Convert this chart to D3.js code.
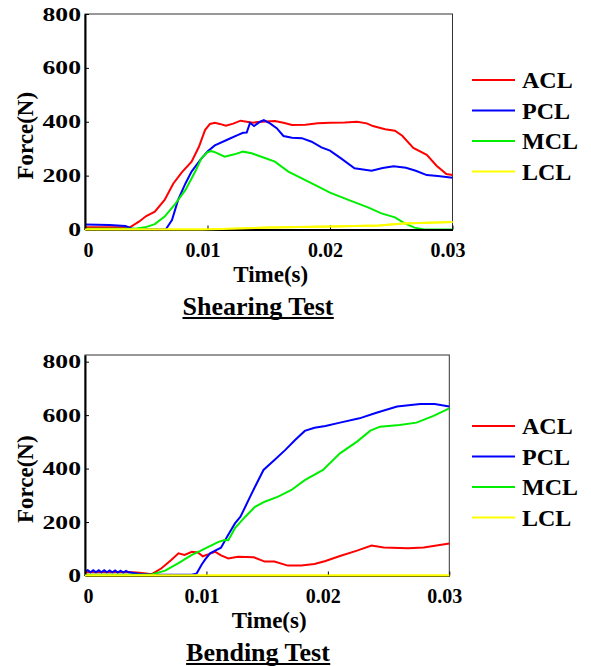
<!DOCTYPE html>
<html>
<head>
<meta charset="utf-8">
<script src="https://cdn.jsdelivr.net/npm/d3@7"></script>
<style>
body { margin: 0; background: #fff; }
text { font-family: "Liberation Serif", "Times New Roman", serif; font-weight: bold; fill: #000; }
</style>
</head>
<body>
<div id="chart"></div>
<script>
// ligaments + colours
const ligaments = ['ACL', 'PCL', 'MCL', 'LCL']
const colors = ['#ff0000', '#0000ff', '#00ee00', '#ffff00']

const xTicks = [0, 0.01, 0.02, 0.03]
const xTickLabels = ['0', '0.01', '0.02', '0.03']
const yTicks = [0, 200, 400, 600, 800]

// shearing test, [time s, force N]
const shearACL = [[0,8],[0.0037,9],[0.0044,29],[0.005,50],[0.0057,66],[0.0065,110],[0.0072,170],[0.0079,212],[0.0087,252],
  [0.0093,307],[0.0098,369],[0.0102,392],[0.0106,396],[0.011,392],[0.0115,385],[0.0121,393],[0.0127,404],[0.0132,400],
  [0.0137,396],[0.0141,399],[0.0148,401],[0.0155,403],[0.0162,396],[0.0169,388],[0.018,389],[0.019,394],[0.02,396],
  [0.0212,397],[0.0222,400],[0.023,394],[0.0235,384],[0.0245,372],[0.0253,367],[0.0259,348],[0.0268,303],[0.0279,277],
  [0.0287,237],[0.0295,206],[0.03,202]]
const shearPCL = [[0,19],[0.002,17],[0.0033,13],[0.0038,4],[0.0042,1],[0.0066,1],[0.0071,35],[0.0076,110],[0.0082,171],
  [0.0087,215],[0.0094,258],[0.01,290],[0.0106,312],[0.0117,335],[0.0125,351],[0.0129,359],[0.0132,360],[0.01347,396],
  [0.0138,384],[0.0143,400],[0.0146,406],[0.0151,394],[0.01565,376],[0.0162,347],[0.0169,341],[0.0177,339],[0.0185,326],
  [0.0193,305],[0.02,293],[0.0209,264],[0.022,227],[0.0234,218],[0.0243,228],[0.0252,235],[0.0262,229],[0.027,218],
  [0.0279,202],[0.0288,199],[0.03,192]]
const shearMCL = [[0,3],[0.0041,3],[0.0049,8],[0.0057,20],[0.0065,48],[0.0073,91],[0.0082,147],[0.009,215],[0.0095,264],
  [0.01,287],[0.0103,291],[0.0106,287],[0.0114,270],[0.0122,279],[0.0129,289],[0.0136,283],[0.0144,270],[0.0155,252],
  [0.0166,215],[0.0177,190],[0.0188,165],[0.02,137],[0.0215,110],[0.0231,82],[0.0242,60],[0.0253,45],[0.0261,23],
  [0.0269,7],[0.0277,0],[0.03,0]]
const shearLCL = [[0,0],[0.0095,0],[0.012,3],[0.015,7],[0.02,11],[0.024,15],[0.026,22],[0.03,28]]

// bending test
const bendACL = [[0,12],[0.0036,13],[0.0045,10],[0.0055,5],[0.0063,27],[0.0071,58],[0.0077,83],[0.0082,77],[0.0088,89],
  [0.0093,86],[0.0097,72],[0.0102,80],[0.0107,89],[0.0112,75],[0.0118,64],[0.0126,70],[0.0139,68],[0.0148,52],[0.0156,52],
  [0.0167,37],[0.0178,37],[0.0189,43],[0.0198,54],[0.021,73],[0.0224,93],[0.0236,112],[0.0246,105],[0.0266,102],
  [0.0279,105],[0.03,120]]
const bendPCL = [[0,15],[0.00023,20],[0.00045,12],[0.00068,20],[0.0009,12],[0.00113,20],[0.00135,12],[0.00158,20],[0.0018,12],
  [0.00203,19],[0.00225,12],[0.00248,19],[0.0027,11],[0.00293,18],[0.00315,11],[0.00338,17],[0.0036,12],[0.0045,6],
  [0.0055,3],[0.0088,3],[0.0092,8],[0.0096,40],[0.0099,60],[0.0103,83],[0.0108,95],[0.0112,104],[0.0117,145],
  [0.01235,195],[0.0128,220],[0.0132,257],[0.0136,295],[0.014,332],[0.0147,395],[0.0156,432],[0.0165,470],[0.0173,507],
  [0.0181,541],[0.0189,553],[0.0198,559],[0.021,572],[0.0226,588],[0.024,609],[0.0257,632],[0.0276,642],[0.0288,642],
  [0.03,632]]
const bendMCL = [[0,3],[0.0055,4],[0.0066,18],[0.0077,46],[0.0088,77],[0.0095,92],[0.0102,108],[0.011,126],[0.0115,133],
  [0.0118,132],[0.01235,177],[0.0132,220],[0.014,257],[0.0148,276],[0.0159,295],[0.017,320],[0.0181,357],[0.0196,395],
  [0.021,457],[0.0224,501],[0.0235,542],[0.0243,557],[0.0259,563],[0.0273,572],[0.0287,597],[0.03,625]]
const bendLCL = [[0,0],[0.03,0]]

const charts = [
  { title: 'Shearing Test', data: [shearACL, shearPCL, shearMCL, shearLCL],
    left: 85, right: 452.5, top: 14, bottom: 229.5, yMax: 800, legendY: 80 },
  { title: 'Bending Test', data: [bendACL, bendPCL, bendMCL, bendLCL],
    left: 85, right: 449.3, top: 355, bottom: 575.5, yMax: 825, legendY: 426 }
]

let svg = d3.select('#chart')
.append('svg')
.attr('width', 591)
.attr('height', 666)

charts.forEach(c => drawChart(c))

function drawChart(c) {
  let xScale = d3.scaleLinear()
  .domain([0, 0.03])
  .range([c.left, c.right])

  let yScale = d3.scaleLinear()
  .domain([0, c.yMax])
  .range([c.bottom, c.top])

  // frame (top / right)
  svg.append('rect')
  .attr('x', c.left).attr('y', c.top)
  .attr('width', c.right - c.left).attr('height', c.bottom - c.top)
  .attr('fill', 'none')
  .attr('stroke', '#333')
  .attr('stroke-width', 1)

  let lineFunc = d3.line()
  .x(d => xScale(d[0]))
  .y(d => yScale(d[1]))

  svg.append('g')
  .selectAll('path')
  .data(c.data)
  .join('path')
  .attr('d', lineFunc)
  .attr('fill', 'none')
  .attr('stroke', (d, i) => colors[i])
  .attr('stroke-width', 2)

  let xAxis = svg.append('g')
  .attr('transform', `translate(0, ${c.bottom})`)
  .call(d3.axisBottom(xScale).tickValues(xTicks).tickFormat((d, i) => xTickLabels[i])
    .tickSizeInner(-4).tickSizeOuter(0).tickPadding(13))
  xAxis.select('.domain').attr('stroke', '#000').attr('stroke-width', 2)
  xAxis.selectAll('text').attr('font-size', 20).attr('dx', d => d == 0 ? 3 : -5)

  let yAxis = svg.append('g')
  .attr('transform', `translate(${c.left}, 0)`)
  .call(d3.axisLeft(yScale).tickValues(yTicks).tickSizeInner(-4).tickSizeOuter(0).tickPadding(3))
  yAxis.select('.domain').attr('stroke', '#000').attr('stroke-width', 2)
  yAxis.selectAll('text').attr('font-size', 19).attr('transform', 'scale(1.35,1)')
  svg.selectAll('.tick text').attr('font-family', '"Liberation Serif", serif').attr('font-weight', 'bold')

  // LCL bending sits on the axis, draw it on top
  svg.append('path')
  .datum(c.data[3])
  .attr('d', lineFunc)
  .attr('fill', 'none')
  .attr('stroke', colors[3])
  .attr('stroke-width', 2)

  // axis titles
  svg.append('text')
  .attr('x', (c.left + c.right) / 2 + 2)
  .attr('y', c.bottom + 52)
  .attr('text-anchor', 'middle')
  .attr('font-size', 23)
  .text('Time(s)')

  svg.append('text')
  .attr('transform', `translate(33, ${(c.top + c.bottom) / 2 + 14}) rotate(-90)`)
  .attr('text-anchor', 'middle')
  .attr('font-size', 23)
  .text('Force(N)')

  // underlined title
  let t = svg.append('text')
  .attr('x', 258)
  .attr('y', c.bottom + 85)
  .attr('text-anchor', 'middle')
  .attr('font-size', 26)
  .text(c.title)
  let bb = t.node().getBBox()
  svg.append('line')
  .attr('x1', bb.x).attr('x2', bb.x + bb.width)
  .attr('y1', c.bottom + 88.5).attr('y2', c.bottom + 88.5)
  .attr('stroke', '#000').attr('stroke-width', 2)

  // legend
  let leg = svg.append('g')
  .selectAll('g')
  .data(ligaments)
  .join('g')
  .attr('transform', (d, i) => `translate(472, ${c.legendY + i * 30.5})`)

  leg.append('line')
  .attr('x1', 0).attr('x2', 43)
  .attr('stroke', (d, i) => colors[i])
  .attr('stroke-width', 2)

  leg.append('text')
  .attr('x', 50)
  .attr('y', 8)
  .attr('font-size', 24)
  .text(d => d)
}
</script>
</body>
</html>
